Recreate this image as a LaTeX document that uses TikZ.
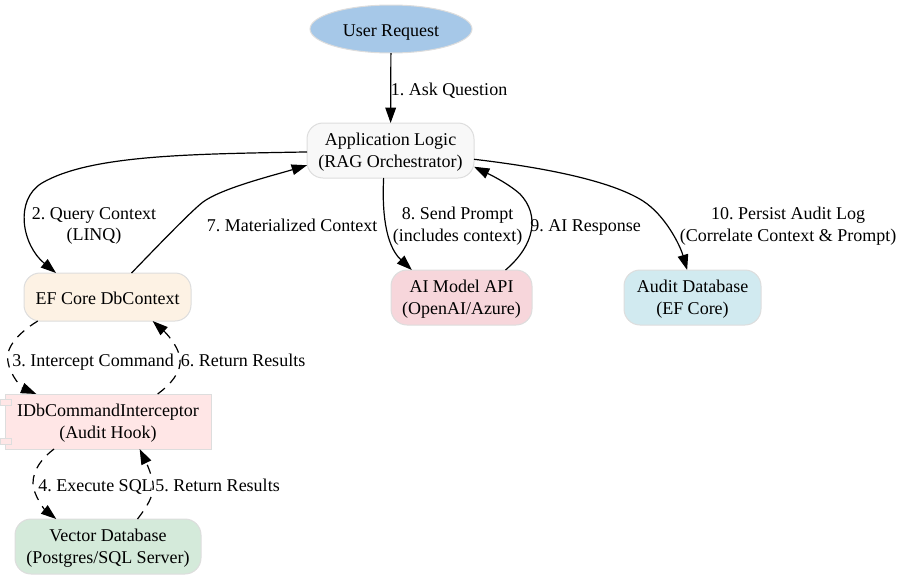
\documentclass[tikz,border=0pt]{standalone}
\usepackage{fontspec}
\setmainfont{Liberation Serif}
\frenchspacing
\usetikzlibrary{shapes.geometric, arrows.meta, positioning}
\definecolor{requestblue}{HTML}{A6C8E8}
\definecolor{applogic}{HTML}{F8F8F8}
\definecolor{efcream}{HTML}{FDF2E4}
\definecolor{hookpink}{HTML}{FFE6E6}
\definecolor{vectorgreen}{HTML}{D4EADA}
\definecolor{modelrose}{HTML}{F7D6DB}
\definecolor{auditblue}{HTML}{D1EAF0}
\definecolor{edgegrey}{HTML}{DDDDDD}
\tikzstyle{base} = [draw=edgegrey, line width=0.75pt, inner sep=0pt, outer sep=0pt, align=center, font=\fontsize{13.5}{16.2}\selectfont, text depth=-2.6pt]
\tikzstyle{oneline} = [text height=11.3pt, text depth=0pt]
\tikzstyle{service} = [base, rectangle, rounded corners=12pt, minimum height=41.25pt]
\tikzstyle{tab} = [draw=edgegrey, line width=0.75pt, rectangle, fill=hookpink, minimum width=8.25pt, minimum height=4.5pt, inner sep=0pt, outer sep=0pt]
\tikzstyle{lbl} = [inner sep=0pt, align=center, font=\fontsize{13.5}{16.2}\selectfont]
\tikzstyle{arrow} = [line width=0.9pt, ->, >={Triangle[length=11.5pt,width=8pt]}]
\tikzstyle{dasharrow} = [arrow, dash pattern=on 7pt off 5.5pt]

\begin{document}
\begin{tikzpicture}[x=0.75pt, y=-0.75pt]
\useasboundingbox (0,0) rectangle (903,579);

% Nodes
\node (request) [base, oneline, ellipse, fill=requestblue, minimum width=121.5pt, minimum height=36pt] at (391,29) {User Request};
\node (app) [service, fill=applogic, minimum width=125.25pt] at (390.5,150.5) {Application Logic\\(RAG Orchestrator)};
\node (efcore) [service, oneline, fill=efcream, minimum width=125.25pt, minimum height=36pt] at (107.5,297) {EF Core DbContext};
\node (hook) [base, rectangle, fill=hookpink, minimum width=154.5pt, minimum height=41.25pt] at (108,421.5) {IDbCommandInterceptor\\(Audit Hook)};
\node (tabtop) [tab] at (5.5,402) {};
\node (tabbot) [tab] at (5.5,441) {};
\node (vector) [service, fill=vectorgreen, minimum width=139.5pt] at (108,546.5) {Vector Database\\(Postgres/SQL Server)};
\node (model) [service, fill=modelrose, minimum width=105.75pt] at (461.5,297.5) {AI Model API\\(OpenAI/Azure)};
\node (audit) [service, fill=auditblue, minimum width=102.75pt] at (692.5,297.5) {Audit Database\\(EF Core)};

% Labels
\node (ask) [lbl, oneline] at (449,88.3) {1. Ask Question};
\node (query) [lbl] at (94,226) {2. Query Context\\(LINQ)};
\node (materialized) [lbl, oneline] at (292,224.3) {7. Materialized Context};
\node (send) [lbl] at (457.5,226) {8. Send Prompt\\(includes context)};
\node (response) [lbl, oneline] at (585.5,224.3) {9. AI Response};
\node (persist) [lbl] at (788,226) {10. Persist Audit Log\\(Correlate Context \& Prompt)};
\node (intercept) [lbl, oneline] at (93,359.3) {3. Intercept Command};
\node (results6) [lbl, oneline] at (243,359.3) {6. Return Results};
\node (execute) [lbl, oneline] at (95.5,484.3) {4. Execute SQL};
\node (results5) [lbl, oneline] at (217.5,484.3) {5. Return Results};

% Arrows
\draw [arrow] (request) -- (app);
\draw [arrow] (app.181) .. controls (190,154) and (90,155) .. (42,183) .. controls (14,200) and (22,245) .. (efcore.155);
\draw [arrow] (efcore.45.6) .. controls (150,254) and (190,212) .. (203,202) .. controls (222,188) and (275,175) .. (app.190);
\draw [arrow] (app.256.7) .. controls (382,210) and (385,245) .. (model.151.4);
\draw [arrow] (model.32.3) .. controls (535,245) and (540,215) .. (520,194) .. controls (510,185) and (495,177) .. (app.-11);
\draw [arrow] (app.-6.5) .. controls (540,167) and (610,180) .. (643,201) .. controls (665,215) and (680,245) .. (audit.101.3);
\draw [dasharrow] (efcore.199.6) .. controls (15,335) and (5,350) .. (8,362) .. controls (10,375) and (22,388) .. (hook.159.4);
\draw [dasharrow] (hook.29.3) .. controls (170,385) and (182,372) .. (180,358) .. controls (178,345) and (165,332) .. (efcore.-28.8);
\draw [dasharrow] (hook.207.4) .. controls (42,458) and (33,470) .. (33,483) .. controls (33,495) and (45,510) .. (vector.152.6);
\draw [dasharrow] (vector.43.5) .. controls (146,508) and (155,495) .. (153,483) .. controls (151,472) and (145,460) .. (hook.-41.6);

\end{tikzpicture}
\end{document}
